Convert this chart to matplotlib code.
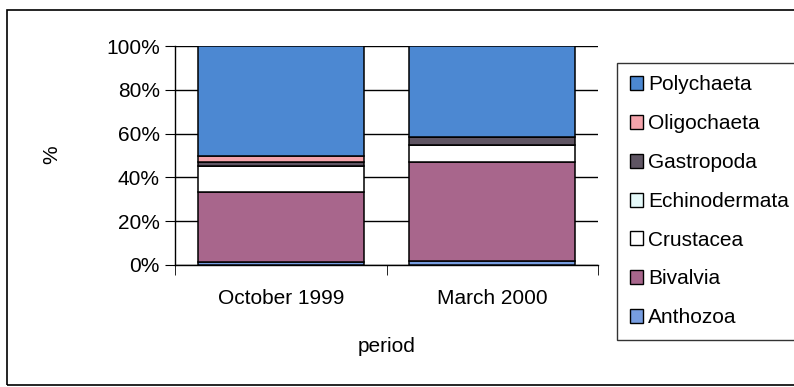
import matplotlib
matplotlib.use('Agg')
import matplotlib.pyplot as plt
from matplotlib.patches import Rectangle, Patch
import numpy as np

plt.rcParams['font.family'] = ['Liberation Sans', 'DejaVu Sans']

periods = ['October 1999', 'March 2000']
taxa = ['Anthozoa', 'Bivalvia', 'Crustacea', 'Echinodermata',
        'Gastropoda', 'Oligochaeta', 'Polychaeta']
anthozoa = [1.4, 2.0]
bivalvia = [31.9, 45.0]
crustacea = [11.9, 8.0]
echinodermata = [0.0, 0.0]
gastropoda = [1.8, 3.5]
oligochaeta = [2.8, 0.0]
polychaeta = [50.2, 41.5]
colors = ['#779de0', '#a8668c', '#ffffff', '#e6fafa',
          '#5f5563', '#f4a3ab', '#4c88d2']

series = [anthozoa, bivalvia, crustacea, echinodermata,
          gastropoda, oligochaeta, polychaeta]

fig = plt.figure(figsize=(7.94, 3.87), dpi=100)
fig.patches.append(Rectangle((7 / 794, 2 / 387), 1.0, 375 / 387,
                             transform=fig.transFigure, fill=False,
                             edgecolor='black', linewidth=1.2))
ax = fig.add_axes([175 / 794, 1 - 265 / 387, 423 / 794, 219 / 387])

x = np.arange(len(periods))
bottom = np.zeros(len(periods))
for vals, col in zip(series, colors):
    ax.bar(x, vals, width=0.785, bottom=bottom, color=col,
           edgecolor='black', linewidth=1.1, zorder=3)
    bottom += np.array(vals)

ax.set_xlim(-0.5, 1.5)
ax.set_ylim(0, 100)
ax.set_yticks([0, 20, 40, 60, 80, 100])
ax.set_yticklabels(['0%', '20%', '40%', '60%', '80%', '100%'])
ax.set_xticks(x)
ax.set_xticklabels(periods)
ax.set_xticks([-0.5, 0.5, 1.5], minor=True)
ax.tick_params(axis='x', which='major', length=0, pad=17, labelsize=15)
ax.tick_params(axis='x', which='minor', length=7, direction='out')
ax.tick_params(axis='y', length=7, direction='out', pad=4, labelsize=15)
ax.yaxis.grid(True, color='black', linewidth=1.0, zorder=0)
for s in ['top', 'right']:
    ax.spines[s].set_visible(False)
ax.spines['left'].set_linewidth(1.0)
ax.spines['bottom'].set_linewidth(1.0)

ax.set_xlabel('period', fontsize=15, labelpad=21)
fig.text(52 / 794, 1 - 155 / 387, '%', fontsize=15, rotation=90,
         ha='center', va='center')

handles = [Patch(facecolor=c, edgecolor='black', linewidth=1.0) for c in colors]
leg = fig.legend(handles[::-1], taxa[::-1], loc='upper left',
                 bbox_to_anchor=(617 / 794, 1 - 63 / 387), fontsize=15,
                 frameon=True, fancybox=False, edgecolor='black',
                 handlelength=0.65, handleheight=0.65, handletextpad=0.25,
                 labelspacing=0.95, borderpad=0.6, borderaxespad=0)
leg.get_frame().set_linewidth(1.0)

fig.savefig('out.png', dpi=100)
